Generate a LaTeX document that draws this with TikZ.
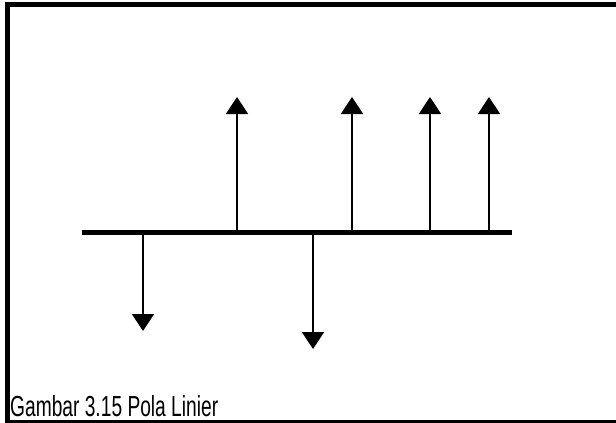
\documentclass[tikz,border=0pt]{standalone}
\usepackage{graphicx}
\usepackage{fontspec}
\setmainfont{Liberation Sans}
\usetikzlibrary{arrows.meta}
\tikzset{frame/.style={line width=4.5pt, black}}
\tikzset{axis/.style={line width=5pt, black}}
\tikzset{force/.style={line width=1.8pt, black, -{Triangle[width=22pt, length=17pt]}}}

\begin{document}
\begin{tikzpicture}[x=1pt, y=-1pt]
		\useasboundingbox (0, 0) rectangle (616, 423);
		\draw[frame] (7.5, 423) -- (7.5, 4.5) -- (616, 4.5);
		\draw[frame, line width=3pt] (5, 421.5) -- (616, 421.5);
		\coordinate (L) at (82, 232);
		\coordinate (R) at (512, 232);
		\draw[axis] (L) -- (R);
		\foreach \x in {237, 352, 430, 489} { \coordinate (up\x) at (\x, 232); \draw[force] (up\x) -- (\x, 97); }
		\foreach \x/\y in {143/331, 313/349} { \coordinate (dn\x) at (\x, 232); \draw[force] (dn\x) -- (\x, \y); }
		\node[anchor=base west, inner sep=0pt] (caption) at (10, 416) {\resizebox{208pt}{21pt}{Gambar 3.15 Pola Linier}};
	\end{tikzpicture}
\end{document}
